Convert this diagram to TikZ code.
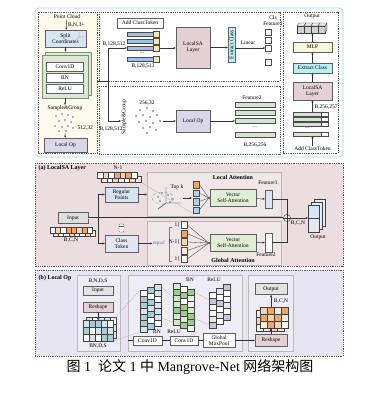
\documentclass[tikz,border=0pt]{standalone}
\usepackage{fontspec}
\setmainfont{Liberation Serif}
\newfontfamily\cjk{Noto Sans CJK SC}
\usetikzlibrary{arrows.meta, positioning, calc}
\definecolor{panelln}{HTML}{BCD3E6}
\definecolor{lyellow}{HTML}{FDFAEC}
\definecolor{lblue}{HTML}{D5E5F3}
\definecolor{bblue}{HTML}{9DC3E6}
\definecolor{lsqb}{HTML}{B3D1EC}
\definecolor{lgreen}{HTML}{DDE7D6}
\definecolor{dgreen}{HTML}{7E9276}
\definecolor{lav}{HTML}{DAD7EA}
\definecolor{pinkb}{HTML}{E5D1D5}
\definecolor{cyanb}{HTML}{BDEFF6}
\definecolor{creamb}{HTML}{FFF5D8}
\definecolor{ysq}{HTML}{F6E5B3}
\definecolor{gbar}{HTML}{D6E3D3}
\definecolor{pinkbg}{HTML}{EBDDE0}
\definecolor{pinkin}{HTML}{F1E6E8}
\definecolor{vsag}{HTML}{E0EFD3}
\definecolor{lavbg}{HTML}{E7E5F1}
\definecolor{lavin}{HTML}{EEECF6}
\definecolor{ctok}{HTML}{E3E6F3}
\definecolor{org}{HTML}{F2A468}
\definecolor{lorg}{HTML}{F9D3B0}
\definecolor{corg}{HTML}{FCEBDC}
\definecolor{teal1}{HTML}{A9CDD8}
\definecolor{teal2}{HTML}{D3E6EC}
\definecolor{grn1}{HTML}{9ECB8E}
\definecolor{grn2}{HTML}{D5EBCB}
\definecolor{pur1}{HTML}{C9C4E0}
\definecolor{pur2}{HTML}{E8E6F2}
\definecolor{dotblue}{HTML}{3C7FB8}
\definecolor{dotpur}{HTML}{6A3D9A}
\definecolor{eqblue}{HTML}{4A86C5}
\definecolor{lnk}{HTML}{333333}
\newcommand{\fs}{\fontsize{5.5}{6}\selectfont}
\newcommand{\fh}{\fontsize{6}{7}\selectfont\bfseries}
% one column / one row of tensor cells: x, y, width, height, colours
\newcommand{\cellcol}[5]{\foreach \c [count=\i from 0] in {#5}
  \draw[cell, fill=\c] (#1,{#2+#4*\i}) rectangle +(#3,#4);}
\newcommand{\cellrow}[5]{\foreach \c [count=\i from 0] in {#5}
  \draw[cell, fill=\c] ({#1+#3*\i},#2) rectangle +(#3,#4);}

\begin{document}
\begin{tikzpicture}[x=1pt, y=-1pt,
  >={Stealth[length=2.4pt, width=2pt]},
  blk/.style={draw=gray!75!black, line width=0.4pt, fill=#1, font=\fs,
    align=center, inner sep=0.5pt},
  blk/.default=white,
  txt/.style={font=\fs, inner sep=0.5pt, align=center},
  hd/.style={font=\fh, inner sep=0.5pt},
  dbox/.style={draw=gray!70!black, dash pattern=on 1pt off 0.8pt, line width=0.4pt},
  sbox/.style={draw=gray!55, line width=0.5pt},
  cell/.style={draw=gray!50!black, line width=0.3pt},
  bar/.style={draw=gray!60!black, line width=0.3pt, fill=#1, minimum height=4.5,
    inner sep=0pt},
  sq/.style={draw=gray!60!black, line width=0.35pt, fill=#1, minimum size=6,
    inner sep=0pt},
  sq/.default=white,
  link/.style={draw=lnk, line width=0.45pt},
  proj/.style={draw=gray!65, line width=0.25pt},
  jdot/.style={circle, fill=lnk, inner sep=0pt, minimum size=2.2},
]
\useasboundingbox (0,0) rectangle (371,396);
\fill[white] (0,0) rectangle (371,396);

% ============================================================
% Top: whole network
% ============================================================
\draw[draw=panelln, line width=0.8pt, rounded corners=4pt, fill=white]
  (35,8) rectangle (343,157);
\draw[dbox, fill=lyellow] (38,12) rectangle (97,153);
\draw[dbox] (99,12) rectangle (280,81);
\draw[dbox] (99,86) rectangle (280,154);
\draw[dbox] (283,12) rectangle (338,153);

% left column
\node[txt] (pc) at (67,17) {Point Cloud};
\node[blk=lblue, minimum width=41, minimum height=17] (split) at (65.5,38.5)
  {Split\\Coordinates};
\draw[link,->] (pc) -- node[txt, right=1pt] {B,N,3+} (split);
\draw[org, line width=0.5pt] (79,37) -- (79,32) (79,37) -- (85,37) (79,37) -- (76,40);

\node[draw=dgreen, fill=lgreen, minimum width=46, minimum height=43, inner sep=0pt]
  (stkb) at (68,73.5) {};
\node[draw=dgreen, fill=lgreen, minimum width=46, minimum height=43, inner sep=0pt]
  (stk) at (65,76.5) {};
\node[blk, minimum width=37, minimum height=9] (conv) at (65,66.5) {Conv1D};
\node[blk, minimum width=37, minimum height=9] (bn) at (65,77.5) {BN};
\node[blk, minimum width=37, minimum height=9] (relu) at (65,88.5) {ReLU};
\draw[link,->] (split) -- (stkb.north -| split);

\node[txt] (sg1) at (65,108) {Sample\&Group};
\draw[link,->] (stk) -- (sg1);
\foreach \p in {(56,116),(62,114),(68,115),(73,117),(59,121),(65,120),(71,122),
                (55,126),(62,127),(68,126),(73,128),(59,131),(66,131)}
  \fill[dotblue] \p circle[radius=0.9pt];
\node[txt, anchor=west] (n512) at (77,128) {512,32};
\coordinate (dots1) at (65,133);
\node[blk=lav, minimum width=43, minimum height=14] (lop1) at (65.5,145) {Local Op};
\draw[link,->] (dots1) -- (lop1);

% branch into the two middle boxes
\coordinate (tap) at (97,81);
\coordinate (fork) at (108,81);
\coordinate (sg2in) at (121,121);
\draw[link] (tap) -- (fork);

% middle top: class token + LocalSA
\node[blk, minimum width=46, minimum height=10] (act1) at (140,23) {Add ClassToken};
\foreach \y [count=\i] in {34,41,48,59} {
  \node[bar=bblue, minimum width=26] (tb\i) at (140,\y) {};
  \node[sq=ysq, minimum width=6, minimum height=5.5, right=0pt of tb\i] (ty\i) {};
}
\node[txt] (dd1) at (142,53) {...};
\node[txt] (b513) at (143,66) {B,128,513};
\draw[link,->] (fork) |- (tb3.west);
\node[txt] (b512a) at (114,44) {B,128,512};
\node[blk=pinkb, minimum width=34, minimum height=41] (lsa1) at (193,47.5)
  {LocalSA\\Layer};
\draw[link,->] (ty3.east) -- (ty3.east -| lsa1.west);
\node[blk=cyanb, rotate=90, minimum width=35, minimum height=7] (ext1) at (231.5,44.5)
  {Extract Class};
\draw[link,->] (lsa1.east) -- (lsa1.east -| ext1.north);
\foreach \y [count=\i] in {32,40,48,62}
  \node[sq] (cs\i) at (268.5,\y) {};
\node[txt] (dd2) at (268.5,54) {...};
\node[txt] (lin) at (248,43) {Linear};
\draw[link,->] (ext1.south |- cs3) -- (cs3);
\node[txt] (clsf) at (273,21) {Cls\\Feature1};

% middle bottom: sample & group + local op
\node[txt, rotate=90] (sg2) at (124,117) {Sample\&Group};
\draw[link,->] (fork) |- (sg2in);
\node[txt] (b512b) at (111,129) {B,128,512};
\foreach \p in {(140,110),(147,108),(153,111),(136,116),(143,115),(150,117),(157,115),
                (139,122),(146,121),(153,123),(160,121),(143,128),(150,127),(156,130),
                (147,133)}
  \fill[dotpur] \p circle[radius=0.9pt];
\node[txt] (n256) at (147,103) {256,32};
\coordinate (dots2) at (163,121);
\node[blk=lav, minimum width=34, minimum height=22] (lop2) at (193,121) {Local Op};
\draw[link,->] (dots2) -- (lop2);
\foreach \y [count=\i] in {105,113,121,135}
  \node[bar=gbar, minimum width=40, minimum height=5] (gb\i) at (255,\y) {};
\node[txt] (dd3) at (255,127) {...};
\node[txt] (fe2) at (252,98) {Feature2};
\node[txt] (b256) at (255,145) {B,256,256};
\draw[link,->] (lop2) -- (gb3);

% right column
\node[txt] (outt) at (312,16) {Output};
\foreach \i in {0,...,3} {
  \draw[cell, fill=gray!35] ({297+7*\i},26) rectangle +(7,7);
  \draw[cell, fill=gray!15] ({297+7*\i},26) -- ++(2,-3) -- ++(7,0) -- ++(-2,3) -- cycle;
}
\draw[cell, fill=gray!50] (325,26) -- ++(2,-3) -- ++(0,7) -- ++(-2,3) -- cycle;
\coordinate (oicon) at (312.5,33);
\node[blk=creamb, minimum width=39, minimum height=10] (mlp) at (312.5,47) {MLP};
\node[blk=cyanb, minimum width=39, minimum height=10] (ext2) at (312.5,68) {Extract Class};
\node[blk=pinkb, minimum width=39, minimum height=18] (lsa2) at (312.5,91) {LocalSA\\Layer};
\foreach \y [count=\i] in {114,119,124,134} {
  \node[bar=gbar, minimum width=28, minimum height=3.6] (rb\i) at (307,\y) {};
  \node[sq, minimum width=7, minimum height=3.6, right=0pt of rb\i] (rq\i) {};
}
\node[txt] (dd4) at (307,128) {...};
\node[txt, anchor=west] (b257) at (314,107) {B,256,257};
\node[txt] (act2) at (312.5,149) {Add ClassToken};
\draw[link,->] (act2) -- (act2 |- rb4.south);
\draw[link,->] (lsa2 |- rb1.north) -- (lsa2);
\draw[link,->] (lsa2) -- (ext2);
\draw[link,->] (ext2) -- (mlp);
\draw[link,->] (mlp) -- (oicon);

% ============================================================
% (a) LocalSA layer
% ============================================================
\draw[dbox, fill=pinkbg] (35,163) rectangle (343,266);
\node[hd, anchor=west] (ahd) at (38,168) {(a) LocalSA Layer};
\draw[sbox, fill=pinkin] (147,172) rectangle (281,216);
\draw[sbox, fill=pinkin] (147,221) rectangle (281,265);
\node[hd] (lat) at (233,177) {Local Attention};
\node[hd] (gat) at (233,260) {Global Attention};

% inputs
\node[txt] (nm1) at (118,168) {N-1};
\cellrow{101}{176}{5.7}{6}{corg,white,lorg,corg,white,lorg,corg}
\cellrow{97}{172}{5.7}{6}{white,lorg,white,org,lorg,org,white}
\node[blk=lblue, minimum width=33, minimum height=15] (rp) at (121.5,194.5)
  {Regular\\Points};
\node[blk=gray!25, minimum width=30, minimum height=11] (inp) at (73,218) {Input};
\cellrow{53}{230}{5.3}{6}{corg,white,corg,lorg,corg,white,lorg,corg}
\cellrow{50}{227}{5.3}{6}{white,lorg,white,org,org,lorg,org,white}
\node[txt] (bcn1) at (71,240) {B,C,N};
\node[blk=ctok, minimum width=33, minimum height=17] (ct) at (121.5,243.5)
  {Class\\Token};
\draw[gray!70!black, fill=white, line width=0.35pt, rounded corners=0.8pt]
  (119,224) rectangle (124,232);
\draw[gray!70!black, line width=0.3pt] (119,226.5) -- (124,226.5);

\coordinate (sp) at (98,218);
\node[circle, draw=lnk, fill=white, inner sep=0pt, minimum size=7, line width=0.45pt]
  (plus) at (287,218) {};
\draw[link] (plus.north) -- (plus.south) (plus.west) -- (plus.east);
\draw[link, double=pinkbg, double distance=0.6pt] (inp.east) -- (plus.west);
\draw[link,->] (sp) |- (rp);
\draw[link,->] (sp) |- (ct);

% local attention
\coordinate (lain) at (147,194.5);
\draw[link,->] (rp) -- (lain);
\draw[link] (166,203) -- (166,187) (166,203) -- (181,203) (166,203) -- (158,209);
\draw[gray, dashed, line width=0.3pt] (163,198) ellipse [x radius=11, y radius=6];
\foreach \p in {(158,197),(162,193),(168,195),(172,199),(160,201),(170,202)}
  \fill[dotblue] \p circle[radius=0.8pt];
\node[txt] (topk) at (177,187) {Top k};
\coordinate (sce) at (183,198);
\coordinate (sqin) at (192,198);
\draw[link,->] (sce) -- (sqin);
\foreach \y/\c [count=\i] in {184.5/org,193/lsqb,201.5/lsqb,210/lsqb}
  \node[sq=\c, minimum height=6.5] (lq\i) at (196,\y) {};
\draw[proj] (142,183) -- (lq4.south west);
\node[jdot] (j1) at (209,198) {};
\foreach \i in {1,...,4} \draw[link, line width=0.3pt] (lq\i.east) -- (j1);
\node[blk=vsag, minimum width=46, minimum height=17] (vsa1) at (233,198)
  {Vector\\Self-Attention};
\node[blk=lblue, minimum width=7, minimum height=18] (f1) at (268.5,199) {};
\node[txt] (fe1) at (268,183) {Feature1};
\draw[link,->] (vsa1) -- (f1);
\draw[link] (f1.east) -| (plus.north);

% global attention
\node[txt, text=eqblue] (eq) at (159,243.5) {equal};
\draw[link,->] (ct) -- (eq);
\draw[eqblue, line width=0.5pt] (172,227) -- (169,227) -- (169,261) -- (172,261);
\foreach \c [count=\i] in {white,org,lorg,corg,white}
  \node[sq=\c, minimum height=7] (gq\i) at (184,{216.5+8.5*\i}) {};
\node[txt, anchor=east] (n1a) at (gq1.west) {1\{};
\node[txt, anchor=east] (nn) at (gq3.west) {N-1\{};
\node[txt, anchor=east] (n1b) at (gq5.west) {1\{};
\node[jdot] (j2) at (209,243) {};
\foreach \i in {1,...,5} \draw[link, line width=0.3pt] (gq\i.east) -- (j2);
\node[blk=vsag, minimum width=46, minimum height=17] (vsa2) at (233,243)
  {Vector\\Self-Attention};
\node[blk, minimum width=7, minimum height=19] (f2) at (268.5,242.5) {};
\node[txt] (fe2b) at (266,255) {Feature2};
\draw[link,->] (vsa2) -- (f2);
\draw[link] (f2.east) -| (plus.south);

% output
\draw[cell, fill=lblue!70] (314,199) rectangle (325,226);
\draw[cell, fill=lblue!70] (311,202) rectangle (322,229);
\draw[cell, fill=lblue] (308,205) rectangle (319,218.5);
\draw[cell, fill=pur2] (308,218.5) rectangle (319,232);
\coordinate (oin) at (308,218);
\draw[link,->] (plus) -- (oin);
\node[txt] (bcn2) at (298,223) {B,C,N};
\node[txt] (outa) at (318,237) {Output};

% ============================================================
% (b) Local Op
% ============================================================
\draw[dbox, fill=lavbg] (35,270) rectangle (343,356);
\node[hd, anchor=west] (bhd) at (38,278) {(b) Local Op};
\draw[sbox, fill=lavin] (77,275) rectangle (120,351);
\draw[sbox, fill=lavin] (128,275) rectangle (242,351);
\draw[sbox, fill=lavin] (248,275) rectangle (293,351);

% reshape in
\node[txt] (bnds) at (98,281) {B,N,D,S};
\node[blk=gray!22, minimum width=30, minimum height=9] (inp2) at (98,290.5) {Input};
\node[blk=pinkb, minimum width=30, minimum height=10] (rsh1) at (98,307) {Reshape};
\cellrow{86}{317}{6}{7}{teal2,white,teal2,teal2,white}
\cellrow{86}{324}{6}{7}{white,teal2,white,teal2,teal2}
\cellrow{86}{331}{6}{7}{teal2,teal2,white,white,teal2}
\cellrow{83}{320}{6}{7}{teal2,teal1,teal1,teal2,white}
\cellrow{83}{327}{6}{7}{teal1,white,teal2,teal1,teal2}
\cellrow{83}{334}{6}{7}{white,teal2,white,teal1,teal1}
\coordinate (g1top) at (98,320);
\draw[link,->] (rsh1) -- (g1top);
\node[txt] (bnds2) at (98,346) {BN,D,S};

% conv stack
\draw[proj] (113,320) -- (140,290) (113,341) -- (140,332);
\cellcol{154}{284}{7}{6}{teal2,teal2,white,teal2,teal2,teal2,white}
\cellcol{147}{287}{7}{6}{teal1,white,teal1,teal2,teal1,white,teal1}
\cellcol{140}{290}{7}{6}{white,teal1,teal1,teal2,teal1,teal1,teal2}
\node[txt] (bnl) at (157,332) {BN};
\draw[proj] (161,286) -- (173,298) (161,318) -- (173,322);
\cellcol{173}{283}{7}{6}{grn2,grn1,grn2,grn2,grn1,grn2,grn2}
\cellcol{180}{286}{7}{6}{white,grn1,white,grn1,grn1,grn2,grn1}
\cellcol{187}{289}{7}{6}{grn1,white,white,grn2,grn1,grn1,white}
\node[txt] (bnu) at (190,280) {BN};
\node[txt] (relul) at (174,332) {ReLU};
\draw[proj] (194,292) -- (209,300) (194,318) -- (209,325);
\cellcol{223}{284}{7}{6}{pur1,white,white,pur2,white,pur1}
\cellcol{216}{288}{7}{6}{pur2,white,pur1,white,pur2,white}
\cellcol{209}{292}{7}{6}{white,pur1,white,white,pur2,pur1}
\node[txt] (reluu) at (214,280) {ReLU};

\coordinate (b2in) at (128,340.5);
\node[blk, minimum width=29, minimum height=9] (cv1) at (147.5,340.5) {Conv1D};
\node[blk, minimum width=28, minimum height=9] (cv2) at (184,340.5) {Conv1D};
\node[blk, minimum width=32, minimum height=14] (gmp) at (219,340.5) {Global\\MaxPool};
\draw[link] (b2in) -- (cv1);
\draw[link] (cv1) -- (cv2);
\draw[link] (cv2) -- (gmp);

% reshape out
\node[blk=gray!22, minimum width=32, minimum height=11] (out2) at (271,289) {Output};
\node[txt] (bcn3) at (281,301) {B,C,N};
\cellrow{256}{310}{7}{7}{corg,lorg,corg,corg}
\cellrow{256}{317}{7}{7}{lorg,corg,lorg,corg}
\cellrow{256}{324}{7}{7}{corg,corg,lorg,corg}
\cellrow{260}{307}{7}{7}{lorg,org,corg,org}
\cellrow{260}{314}{7}{7}{org,lorg,org,corg}
\cellrow{260}{321}{7}{7}{corg,org,lorg,white}
\node[blk=pinkb, minimum width=32, minimum height=12] (rsh2) at (271,340.5) {Reshape};
\draw[link,->] (gmp) -- (rsh2);
\coordinate (g3b) at (271,328);
\coordinate (g3t) at (271,307);
\draw[link] (rsh2) -- (g3b);
\draw[link,->] (g3t) -- (out2);

% caption
\node[font=\fontsize{14}{16}\selectfont, inner sep=0pt] (cap) at (190,367)
  {{\cjk 图} 1\enspace{\cjk 论文} 1 {\cjk 中} Mangrove-Net {\cjk 网络架构图}};

\end{tikzpicture}
\end{document}
